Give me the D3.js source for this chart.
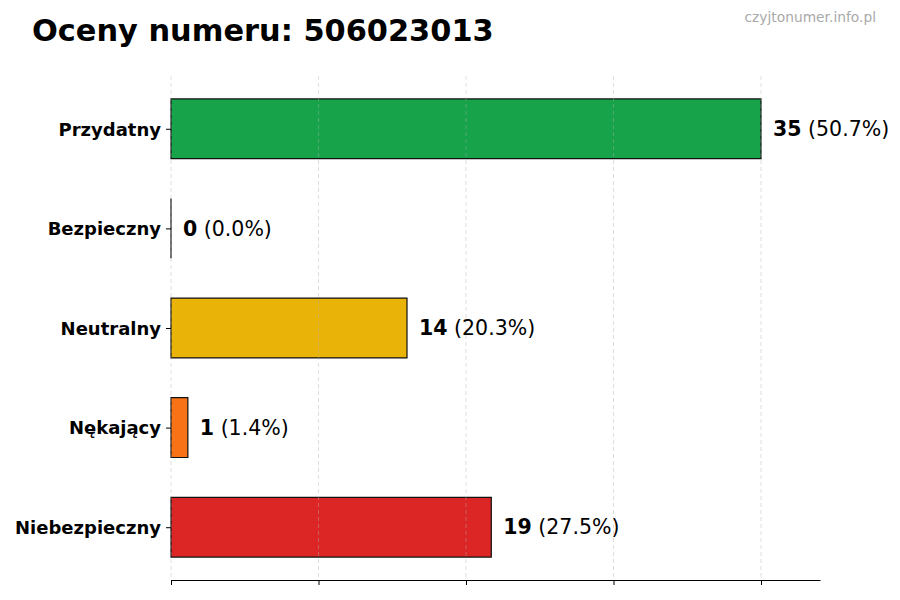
<!DOCTYPE html>
<html><head><meta charset="utf-8">
<script src="https://cdn.jsdelivr.net/npm/d3@7"></script>
<style>body{margin:0;background:#fff}svg{display:block}</style>
</head><body>
<svg id="c" width="900" height="600"></svg>
<script>
const categories = ["Przydatny", "Bezpieczny", "Neutralny", "Nękający", "Niebezpieczny"];
const counts = [35, 0, 14, 1, 19];
const percents = ["50.7%", "0.0%", "20.3%", "1.4%", "27.5%"];
const colors = ["#16a34a", "#3b82f6", "#eab308", "#f97316", "#dc2626"];
const titleText = "Oceny numeru: 506023013";
const watermark = "czyjtonumer.info.pl";

(function () {
const svg = d3.select("#c");
const font = "'DejaVu Sans', sans-serif";
const pL = 171, pR = 820, pT = 76, pB = 580;
const maxV = d3.max(counts);
const x = d3.scaleLinear().domain([0, maxV * 1.1]).range([pL, pR]);
const y = d3.scaleLinear().domain([-0.53, 4.53]).range([pT, pB]);
const barH = y(0.3) - y(-0.3);

svg.append("g").selectAll("path").data(counts).join("path")
  .attr("d", (d, i) => {
    const x0 = x(0), x1 = x(d), y0 = y(i) - barH / 2, y1 = y(i) + barH / 2;
    return `M${x0},${y0}H${x1}V${y1}H${x0}Z`;
  })
  .attr("fill", (d, i) => colors[i])
  .attr("stroke", "#111")
  .attr("stroke-width", 1.2);

const ticks = d3.range(5).map(k => maxV * k / 4);
svg.append("g").selectAll("line").data(ticks).join("line")
  .attr("x1", d => x(d)).attr("x2", d => x(d))
  .attr("y1", pT).attr("y2", pB)
  .attr("stroke", "#b0b0b0").attr("stroke-opacity", 0.5)
  .attr("stroke-dasharray", "4,3").attr("stroke-width", 0.8);

const xAxis = d3.axisBottom(x).tickValues(ticks).tickFormat("").tickSize(5).tickSizeOuter(0);
const gx = svg.append("g").attr("transform", `translate(0,${pB})`).call(xAxis);
gx.select(".domain").attr("stroke", "#000").attr("stroke-width", 1.2);
gx.selectAll(".tick line").attr("stroke", "#000").attr("stroke-width", 1);

const yAxis = d3.axisLeft(y).tickValues(d3.range(categories.length))
  .tickFormat(i => categories[i]).tickSize(5).tickPadding(5);
const gy = svg.append("g").attr("transform", `translate(${pL},0)`).call(yAxis);
gy.select(".domain").remove();
gy.selectAll(".tick line").attr("stroke", "#000");
gy.selectAll(".tick text").attr("font-family", font).attr("font-weight", "bold")
  .attr("font-size", 18).attr("fill", "#000").attr("dy", "0.35em");

const vl = svg.append("g").selectAll("text").data(counts).join("text")
  .attr("x", d => x(d) + 12)
  .attr("y", (d, i) => y(i))
  .attr("dy", "0.35em")
  .attr("font-family", font).attr("font-size", 20.5).attr("fill", "#000");
vl.append("tspan").attr("font-weight", "bold").text(d => d);
vl.append("tspan").text((d, i) => " (" + percents[i] + ")");

svg.append("text").attr("x", 32).attr("y", 41)
  .attr("font-family", font).attr("font-weight", "bold").attr("font-size", 30.4)
  .attr("fill", "#000").text(titleText);

svg.append("text").attr("x", 876).attr("y", 22).attr("text-anchor", "end")
  .attr("font-family", font).attr("font-size", 13.8).attr("fill", "#aaaaaa")
  .text(watermark);
})();
</script>
</body></html>
